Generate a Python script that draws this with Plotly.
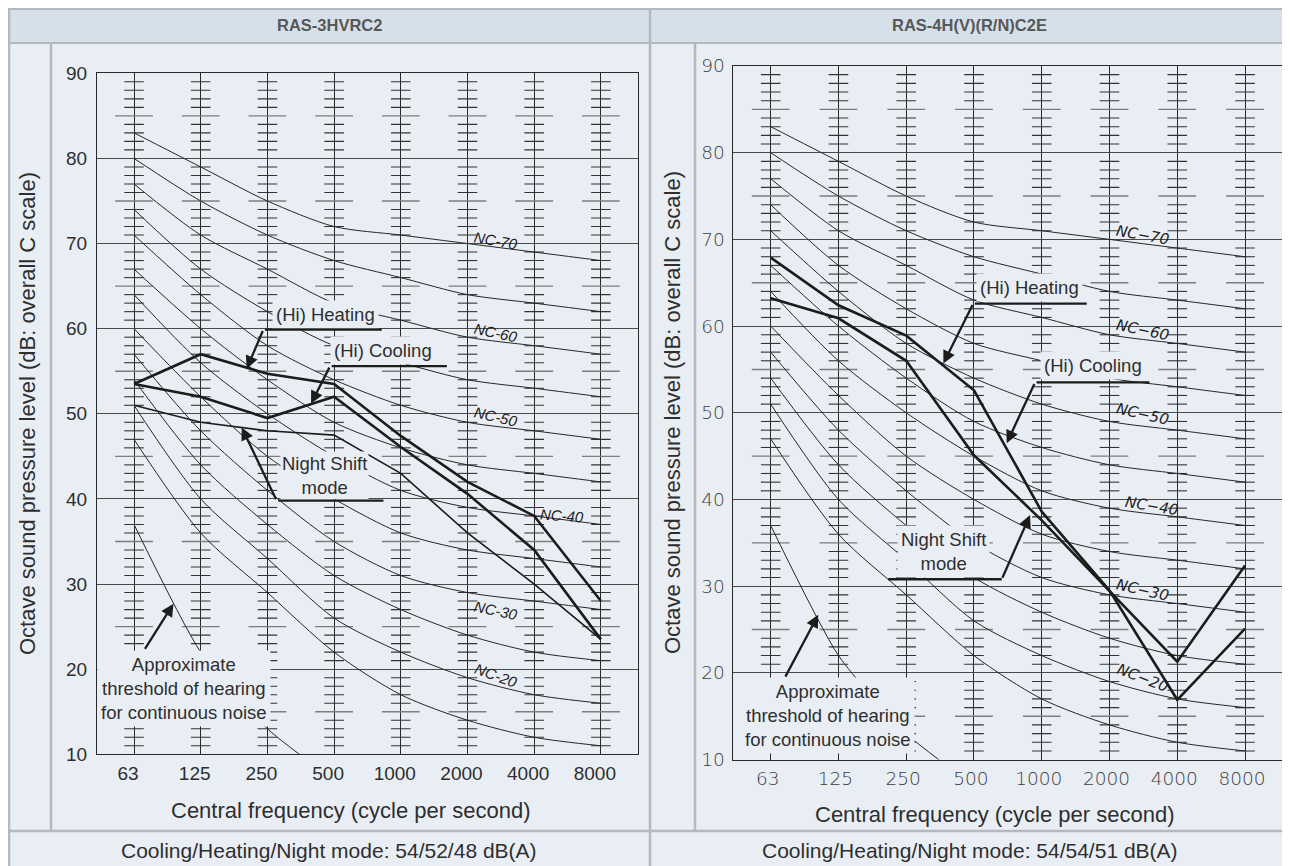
import plotly.graph_objects as go

W, H = 1290, 866

# ---------------- data ----------------
freq_labels = ["63", "125", "250", "500", "1000", "2000", "4000", "8000"]
y_tick_values = [10, 20, 30, 40, 50, 60, 70, 80, 90]

nc15 = [47, 36, 29, 22, 17, 14, 12, 11]
nc20 = [51, 40, 33, 26, 22, 19, 17, 16]
nc25 = [54, 44, 37, 31, 27, 24, 22, 21]
nc30 = [57, 48, 41, 35, 31, 29, 28, 27]
nc35 = [60, 52, 45, 40, 36, 34, 33, 32]
nc40 = [64, 56, 50, 45, 41, 39, 38, 37]
nc45 = [67, 60, 54, 49, 46, 44, 43, 42]
nc50 = [71, 64, 58, 54, 51, 49, 48, 47]
nc55 = [74, 67, 62, 58, 56, 54, 53, 52]
nc60 = [77, 71, 67, 63, 61, 59, 58, 57]
nc65 = [80, 75, 71, 68, 66, 64, 63, 62]
nc70 = [83, 79, 75, 72, 71, 70, 69, 68]
nc_curves = [nc15, nc20, nc25, nc30, nc35, nc40, nc45, nc50, nc55, nc60, nc65, nc70]

threshold_hearing = [37, 22, 13, 7]

left_heating = [53.5, 57.0, 54.7, 53.5, 47.4, 42.0, 38.0, 28.0]
left_cooling = [53.5, 52.0, 49.5, 52.0, 46.1, 40.6, 34.0, 23.5]
left_night = [51.0, 49.0, 48.0, 47.5, 43.0, 36.0, 30.0, 23.5]

right_heating = [67.9, 62.4, 58.9, 52.6, 38.6, 29.5, 16.9, 25.1]
right_cooling = [63.2, 60.9, 56.0, 45.1, 37.6, 29.5, 21.3, 32.4]

minor_levels = [v for v in range(11, 90) if v % 5 != 0]
major_levels = [v for v in range(15, 90, 10)]

titles = ["RAS-3HVRC2", "RAS-4H(V)(R/N)C2E"]
footers = ["Cooling/Heating/Night mode: 54/52/48 dB(A)",
           "Cooling/Heating/Night mode: 54/54/51 dB(A)"]
y_title = "Octave sound pressure level (dB: overall C scale)"
x_title = "Central frequency (cycle per second)"

# ---------------- styling ----------------
BG = "#e9eef5"
HEAD = "#d6e0eb"
BORDER = "#b4b9bf"
INK = "#1c1c1c"
TXT = "#2e2e2e"
SANS = "Liberation Sans, Arial, sans-serif"
THIN = "DejaVu Sans, sans-serif"
OFF = 8  # page body margin of the browser


def px(x):
    return (x - OFF) / W


def py(y):
    return 1 - (y - OFF) / H


fig = go.Figure()
xs = list(range(len(freq_labels)))

panels = [
    dict(xa="x", ya="y", heat=left_heating, cool=left_cooling, night=left_night),
    dict(xa="x2", ya="y2", heat=right_heating, cool=right_cooling, night=None),
]

for p in panels:
    tx, ty = [], []
    for x in xs:
        for v in minor_levels:
            tx.append(x)
            ty.append(v)
    fig.add_trace(go.Scatter(x=tx, y=ty, mode="markers", xaxis=p["xa"], yaxis=p["ya"],
                             marker=dict(symbol="line-ew", size=14, line=dict(width=1.1, color="#333")),
                             hoverinfo="skip", showlegend=False))
    tx, ty = [], []
    for x in xs:
        for v in major_levels:
            tx.append(x)
            ty.append(v)
    fig.add_trace(go.Scatter(x=tx, y=ty, mode="markers", xaxis=p["xa"], yaxis=p["ya"],
                             marker=dict(symbol="line-ew", size=27, line=dict(width=1.4, color="#7d7d7d")),
                             hoverinfo="skip", showlegend=False))
    for c in nc_curves:
        fig.add_trace(go.Scatter(x=xs, y=c, mode="lines", xaxis=p["xa"], yaxis=p["ya"],
                                 line=dict(color="#262626", width=1, shape="spline", smoothing=0.8),
                                 hoverinfo="skip", showlegend=False))
    fig.add_trace(go.Scatter(x=xs[:len(threshold_hearing)], y=threshold_hearing, mode="lines",
                             xaxis=p["xa"], yaxis=p["ya"],
                             line=dict(color="#262626", width=1, shape="spline", smoothing=0.6),
                             hoverinfo="skip", showlegend=False))
    if p["night"] is not None:
        fig.add_trace(go.Scatter(x=xs, y=p["night"], mode="lines", xaxis=p["xa"], yaxis=p["ya"],
                                 line=dict(color=INK, width=1.6), hoverinfo="skip", showlegend=False))
    for s in (p["cool"], p["heat"]):
        fig.add_trace(go.Scatter(x=xs, y=s, mode="lines", xaxis=p["xa"], yaxis=p["ya"],
                                 line=dict(color=INK, width=2.6), hoverinfo="skip", showlegend=False))

axis_common = dict(showgrid=True, zeroline=False, showline=True, mirror=True, ticks="",
                   fixedrange=True, automargin=False)

fig.update_layout(
    width=W, height=H, margin=dict(l=0, r=0, t=0, b=0, autoexpand=False),
    paper_bgcolor=BG, plot_bgcolor=BG, showlegend=False,
    xaxis=dict(domain=[px(97), px(637.5)], range=[-0.555, 7.549], tickvals=xs, ticktext=freq_labels,
               gridcolor="#2a2a2a", gridwidth=1, linecolor="#2a2a2a", linewidth=1.2,
               tickfont=dict(family=SANS, size=19, color=TXT), ticklabelshift=-6,
               ticklabelstandoff=2, anchor="y", **axis_common),
    yaxis=dict(domain=[py(754.3), py(73.3)], range=[10, 90], tickvals=y_tick_values,
               gridcolor="#4a4a4a", gridwidth=1, linecolor="#2a2a2a", linewidth=1.2,
               tickfont=dict(family=SANS, size=19, color=TXT), ticklabelstandoff=5,
               anchor="x", **axis_common),
    xaxis2=dict(domain=[px(732.7), px(1282.7)], range=[-0.561, 7.556], tickvals=xs, ticktext=freq_labels,
                gridcolor="#2a2a2a", gridwidth=1, linecolor="#2a2a2a", linewidth=1.2,
                tickfont=dict(family=THIN, size=18.5, color="#3c3c3c", weight=300), ticklabelshift=-3,
                ticklabelstandoff=2, anchor="y2", **axis_common),
    yaxis2=dict(domain=[py(759.6), py(66)], range=[10, 90], tickvals=y_tick_values,
                gridcolor="#4a4a4a", gridwidth=1, linecolor="#2a2a2a", linewidth=1.2,
                tickfont=dict(family=THIN, size=18.5, color="#3c3c3c", weight=300), ticklabelstandoff=3,
                anchor="x2", **axis_common),
)

shapes = []
shapes.append(dict(type="rect", xref="paper", yref="paper", x0=px(9), x1=px(1288), y0=py(43), y1=py(9),
                   fillcolor=HEAD, line=dict(color=BORDER, width=2), layer="below"))
for (x0, y0, x1, y1) in [(9, 9, 9, 866), (1288, 9, 1288, 866), (650, 9, 650, 866),
                         (51, 43, 51, 831), (695, 43, 695, 831), (9, 831, 1288, 831)]:
    shapes.append(dict(type="line", xref="paper", yref="paper", x0=px(x0), x1=px(x1), y0=py(y0), y1=py(y1),
                       line=dict(color=BORDER, width=2.5), layer="below"))
fig.update_layout(shapes=shapes)

ann = []
for i, cx in enumerate([329, 970]):
    ann.append(dict(text=f"<b>{titles[i]}</b>", x=px(cx), y=py(25), xref="paper", yref="paper",
                    xanchor="center", yanchor="middle",
                    showarrow=False, font=dict(family=SANS, size=16.5, color="#585858")))
    ann.append(dict(text=footers[i], x=px(cx), y=py(850), xref="paper", yref="paper",
                    xanchor="center", yanchor="middle",
                    showarrow=False, font=dict(family=SANS, size=21, color=TXT)))
for cx, cy in [(28, 414), (672, 413)]:
    ann.append(dict(text=y_title, x=px(cx), y=py(cy), xref="paper", yref="paper", textangle=-90,
                    xanchor="center", yanchor="middle",
                    showarrow=False, font=dict(family=SANS, size=22, color=TXT)))
for cx, cy in [(351, 810), (995, 814)]:
    ann.append(dict(text=x_title, x=px(cx), y=py(cy), xref="paper", yref="paper",
                    xanchor="center", yanchor="middle",
                    showarrow=False, font=dict(family=SANS, size=22, color=TXT)))

lab_font = dict(family=SANS, size=18.5, color=TXT)


def label(xr, yr, x, y, text, pad=3):
    ann.append(dict(text=text, x=x, y=y, xref=xr, yref=yr, showarrow=False, font=lab_font,
                    xanchor="center", yanchor="middle", bgcolor=BG, borderpad=pad))


def arrow(xr, yr, tip, tail, head=2):
    ann.append(dict(text="", x=tip[0], y=tip[1], ax=tail[0], ay=tail[1], xref=xr, yref=yr,
                    axref=xr, ayref=yr, showarrow=True, arrowhead=head, arrowsize=1.1,
                    arrowwidth=2.3, arrowcolor=INK, standoff=0, startstandoff=0))


# NC labels
nc_left = [("NC-70", 5.42, 70.4, 10), ("NC-60", 5.42, 59.6, 12), ("NC-50", 5.42, 49.7, 13),
           ("NC-40", 6.41, 38.1, 4), ("NC-30", 5.43, 26.9, 12), ("NC-20", 5.43, 19.2, 20)]
for t, x, y, a in nc_left:
    ann.append(dict(text=t, x=x, y=y, xref="x", yref="y", showarrow=False, textangle=a,
                    xanchor="center", yanchor="middle",
                    font=dict(family=SANS, size=15, color="#222", style="italic")))
nc_right = [("NC\u221270", 5.48, 70.5, 10), ("NC\u221260", 5.48, 59.5, 12), ("NC\u221250", 5.48, 49.9, 13),
            ("NC\u221240", 5.62, 39.2, 9), ("NC\u221230", 5.48, 29.6, 13), ("NC\u221220", 5.49, 19.4, 21)]
for t, x, y, a in nc_right:
    ann.append(dict(text=t, x=x, y=y, xref="x2", yref="y2", showarrow=False, textangle=a,
                    xanchor="center", yanchor="middle",
                    font=dict(family=THIN, size=15, color="#222", style="italic", weight=300)))

# left panel callouts
label("x", "y", 2.864, 61.7, "(Hi) Heating")
label("x", "y", 3.73, 57.4, "(Hi) Cooling")
label("x", "y", 2.85, 42.7, "Night Shift<br>mode", pad=1)
label("x", "y", 0.75, 17.7, "Approximate<br>threshold of hearing<br>for continuous noise")
for a, b, lvl in [(1.94, 3.715, 59.9), (2.94, 4.69, 55.6), (2.14, 3.74, 39.8)]:
    arrow("x", "y", (b, lvl), (a, lvl), head=0)
arrow("x", "y", (1.69, 55.3), (1.94, 59.9))
arrow("x", "y", (2.654, 51.2), (2.94, 55.6))
arrow("x", "y", (1.615, 48.4), (2.14, 39.8))
arrow("x", "y", (0.592, 27.7), (0.15, 22.2))

# right panel callouts
label("x2", "y2", 3.813, 64.5, "(Hi) Heating")
label("x2", "y2", 4.757, 55.4, "(Hi) Cooling")
label("x2", "y2", 2.548, 34.0, "Night Shift<br>mode")
label("x2", "y2", 0.852, 15.1, "Approximate<br>threshold of hearing<br>for continuous noise")
for a, b, lvl in [(2.99, 4.664, 62.6), (3.901, 5.588, 53.5), (1.712, 3.41, 30.8)]:
    arrow("x2", "y2", (b, lvl), (a, lvl), head=0)
arrow("x2", "y2", (2.548, 55.7), (2.99, 62.6))
arrow("x2", "y2", (3.483, 46.5), (3.901, 53.5))
arrow("x2", "y2", (3.827, 38.2), (3.41, 30.8))
arrow("x2", "y2", (0.701, 26.7), (0.205, 19.4))

fig.update_layout(annotations=ann)
fig.write_html("out.html")
